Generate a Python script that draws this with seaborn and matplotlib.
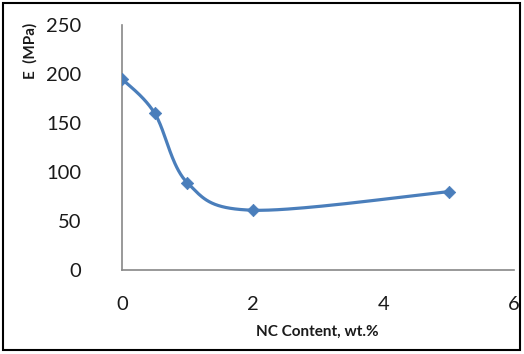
import seaborn as sns
import pandas as pd
import numpy as np
import matplotlib.pyplot as plt

# data
nc_content = [0, 0.5, 1, 2, 5]
modulus = [195, 160, 89, 61, 80]

sns.set_style("white")
plt.rcParams['font.family'] = ['Lato', 'DejaVu Sans']

# excel-like smoothed line (bezier, tension 1/6)
pts = np.column_stack([nc_content, modulus]).astype(float)
ext = np.vstack([pts[0], pts, pts[-1]])
t = np.linspace(0, 1, 40)[:, None]
curve = []
for i in range(1, len(ext) - 2):
    p0, p3 = ext[i], ext[i + 1]
    c1 = p0 + (ext[i + 1] - ext[i - 1]) / 6
    c2 = p3 - (ext[i + 2] - ext[i]) / 6
    seg = (1 - t) ** 3 * p0 + 3 * (1 - t) ** 2 * t * c1 + 3 * (1 - t) * t ** 2 * c2 + t ** 3 * p3
    curve.append(seg)
curve = np.vstack(curve)
smooth = pd.DataFrame({"x": curve[:, 0], "y": curve[:, 1]})
df = pd.DataFrame({"NC": nc_content, "E": modulus})

fig = plt.figure(figsize=(5.24, 3.54), dpi=100)
ax = fig.add_axes([0.2328, 0.2373, 0.7482, 0.6921])

color = "#4A7EBB"
sns.lineplot(data=smooth, x="x", y="y", sort=False, estimator=None, color=color, lw=2.3, ax=ax)
sns.scatterplot(data=df, x="NC", y="E", marker="D", s=40, color=color, edgecolor=color, ax=ax, zorder=3)

ax.set_xlim(0, 6)
ax.set_ylim(0, 250)
ax.set_xticks([0, 2, 4, 6])
ax.set_yticks([0, 50, 100, 150, 200, 250])
for s in ["top", "right"]:
    ax.spines[s].set_visible(False)
for s in ["left", "bottom"]:
    ax.spines[s].set_color("#888888")
    ax.spines[s].set_linewidth(1.2)
ax.tick_params(axis="both", direction="out", length=3.5, width=1.2, color="#888888",
               labelsize=14.5, labelcolor="#1a1a1a")
ax.tick_params(axis="y", pad=26)
ax.tick_params(axis="x", pad=15)

ax.set_xlabel("NC Content, wt.%", fontsize=11, fontweight="bold", color="#1a1a1a")
ax.set_ylabel("E  (MPa)", fontsize=11, fontweight="bold", color="#1a1a1a")
ax.xaxis.set_label_coords(0.497, -0.253)
ax.yaxis.set_label_coords(-0.235, 0.894)
ax.yaxis.label.set_va("center")
ax.xaxis.label.set_va("center")

# outer frame
fig.patches.append(plt.Rectangle((0.006, 0.011), 0.987, 0.98, transform=fig.transFigure,
                                 fill=False, edgecolor="black", lw=1.5))

plt.savefig("out.png", dpi=100)
